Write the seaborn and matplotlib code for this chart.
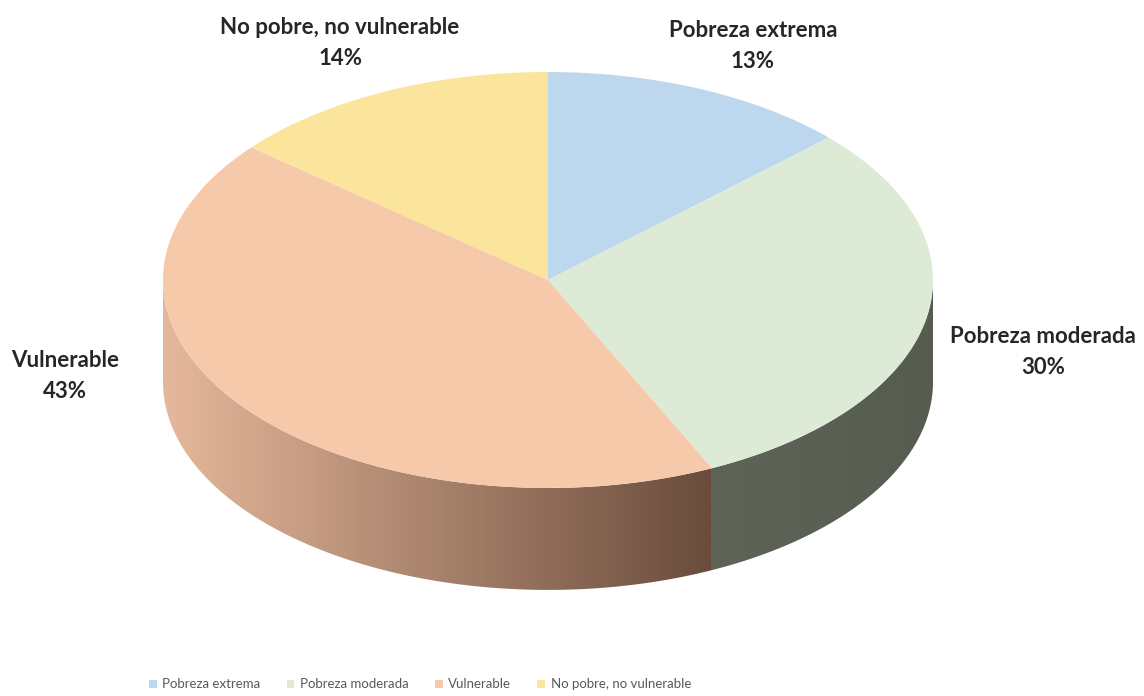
import numpy as np
import matplotlib
matplotlib.use("Agg")
import matplotlib.pyplot as plt
import seaborn as sns
from matplotlib.patches import Polygon
from matplotlib.colors import LinearSegmentedColormap

# Distribution of the population by poverty status (%)
categories = ["Pobreza extrema", "Pobreza moderada", "Vulnerable", "No pobre, no vulnerable"]
shares = [13, 30, 43, 14]

top_colors = ["#BDD7EE", "#DDEBD6", "#F6C9AB", "#FBE49B"]
side_light = ["#9FB4C8", "#5E6457", "#E6B89B", "#D6BE80"]
side_dark = ["#6A7A88", "#565C4F", "#6A4C3C", "#8C7A50"]

sns.set_theme(style="white")
plt.rcParams["font.family"] = ["Lato", "DejaVu Sans"]

fig = plt.figure(figsize=(11.44, 6.96), dpi=100)
ax = fig.add_axes([0, 0, 1, 1])

# Top face: an ordinary pie, flattened into an ellipse by the axes scaling
wedges, _ = ax.pie(shares, colors=top_colors, startangle=90, counterclock=False,
                   radius=1.0, wedgeprops=dict(linewidth=0))
for w in wedges:
    w.set_zorder(3)

# Elliptical projection: 1 unit = 385 px across, 208 px down
xlim = (-548 / 385, 596 / 385)
ylim = (-416 / 208, 280 / 208)
ax.set_aspect("auto")
ax.axis("off")

depth = 0.49

# Side walls for the front half of the disc
total = float(sum(shares))
cum = np.concatenate([[0], np.cumsum(shares)]) / total
for i in range(len(shares)):
    t_start = 90 - 360 * cum[i]
    t_end = 90 - 360 * cum[i + 1]
    lo, hi = t_end, t_start
    for k in range(-2, 2):
        a = max(lo, -180 + 360 * k)
        b = min(hi, 0 + 360 * k)
        if b <= a:
            continue
        th = np.radians(np.linspace(a, b, 120))
        xs, ys = np.cos(th), np.sin(th)
        pts = np.vstack([np.column_stack([xs, ys]),
                         np.column_stack([xs[::-1], ys[::-1] - depth])])
        poly = Polygon(pts, closed=True, facecolor="none", edgecolor="none")
        ax.add_patch(poly)
        x0, x1 = xs.min(), xs.max()
        y0, y1 = ys.min() - depth, ys.max()
        cmap = LinearSegmentedColormap.from_list("side%d" % i, [side_light[i], side_dark[i]])
        grad = np.linspace(0, 1, 256)[None, :]
        im = ax.imshow(grad, cmap=cmap, extent=[x0, x1, y0, y1], aspect="auto",
                       origin="lower", zorder=2, interpolation="bilinear")
        im.set_clip_path(poly)

ax.set_xlim(*xlim)
ax.set_ylim(*ylim)

# Category labels with their shares
label_pos = [(0.532, 1.125), (1.285, -0.345), (-1.255, -0.46), (-0.540, 1.139)]
for name, val, (lx, ly) in zip(categories, shares, label_pos):
    ax.text(lx, ly, f"{name}\n{val}%", ha="center", va="center", fontsize=16,
            fontweight="bold", color="#262626", linespacing=1.6, zorder=5)

leg = fig.legend(wedges, categories, loc="lower center", ncol=4, frameon=False,
                 bbox_to_anchor=(0.367, -0.009), handlelength=0.6,
                 handleheight=0.6, handletextpad=0.4, columnspacing=2.0,
                 labelcolor="#595959", fontsize=9.5)

fig.savefig("out.png", dpi=100)
